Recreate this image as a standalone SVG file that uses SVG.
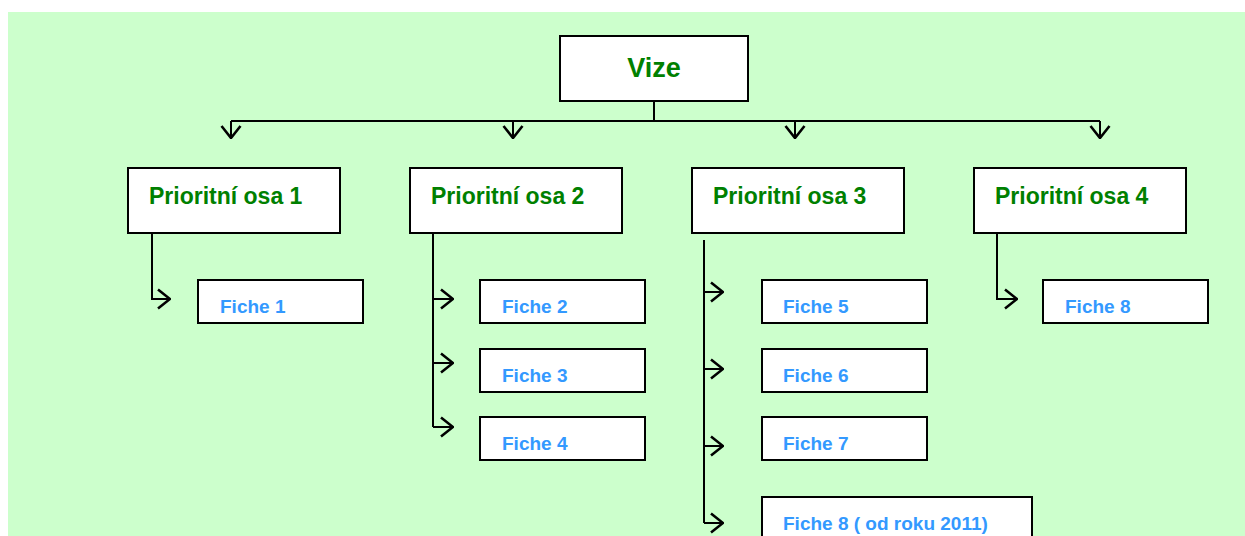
<svg xmlns="http://www.w3.org/2000/svg" width="1245" height="536" viewBox="0 0 1245 536">
<style>
.box{fill:#fff;stroke:#000;stroke-width:2}
.vz{font-family:"Liberation Sans",Arial,sans-serif;font-weight:bold;font-size:27px;fill:#008000}
.os{font-family:"Liberation Sans",Arial,sans-serif;font-weight:bold;font-size:23px;fill:#008000}
.fi{font-family:"Liberation Sans",Arial,sans-serif;font-weight:bold;font-size:19px;fill:#3399ff}
.ln{fill:none;stroke:#000;stroke-width:2}
</style>
<defs>
<marker id="ah" viewBox="0 0 14 22" refX="13" refY="11" markerWidth="14" markerHeight="22" markerUnits="userSpaceOnUse" orient="auto">
<path d="M1,1.5 L13,11 L1,20.5" fill="none" stroke="#000" stroke-width="2.6"/>
</marker>
</defs>
<rect x="8" y="12" width="1237" height="524" fill="#ccffcc"/>
<g id="connectors">
<path class="ln" d="M654,101 V121 M231,121 H1100"/>
<path class="ln" d="M231,121 V138" marker-end="url(#ah)"/>
<path class="ln" d="M513,121 V138" marker-end="url(#ah)"/>
<path class="ln" d="M795,121 V138" marker-end="url(#ah)"/>
<path class="ln" d="M1100,121 V138" marker-end="url(#ah)"/>
<path class="ln" d="M152,233 V299 H170" marker-end="url(#ah)"/>
<path class="ln" d="M433,233 V427"/>
<path class="ln" d="M433,299 H453" marker-end="url(#ah)"/>
<path class="ln" d="M433,363 H453" marker-end="url(#ah)"/>
<path class="ln" d="M433,427 H453" marker-end="url(#ah)"/>
<path class="ln" d="M704,240 V523"/>
<path class="ln" d="M704,292 H723" marker-end="url(#ah)"/>
<path class="ln" d="M704,369 H723" marker-end="url(#ah)"/>
<path class="ln" d="M704,446 H723" marker-end="url(#ah)"/>
<path class="ln" d="M704,523 H723" marker-end="url(#ah)"/>
<path class="ln" d="M997,233 V299 H1017" marker-end="url(#ah)"/>
</g>
<g id="vize"><rect class="box" x="560" y="36" width="188" height="65"/><text class="vz" x="654" y="77" text-anchor="middle">Vize</text></g>
<g id="osa1"><rect class="box" x="128" y="168" width="212" height="65"/><text class="os" x="149" y="204">Prioritní osa 1</text></g>
<g id="osa2"><rect class="box" x="410" y="168" width="212" height="65"/><text class="os" x="431" y="204">Prioritní osa 2</text></g>
<g id="osa3"><rect class="box" x="692" y="168" width="212" height="65"/><text class="os" x="713" y="204">Prioritní osa 3</text></g>
<g id="osa4"><rect class="box" x="974" y="168" width="212" height="65"/><text class="os" x="995" y="204">Prioritní osa 4</text></g>
<g id="fiche1"><rect class="box" x="198" y="280" width="165" height="43"/><text class="fi" x="220" y="313">Fiche 1</text></g>
<g id="fiche2"><rect class="box" x="480" y="280" width="165" height="43"/><text class="fi" x="502" y="313">Fiche 2</text></g>
<g id="fiche3"><rect class="box" x="480" y="349" width="165" height="43"/><text class="fi" x="502" y="382">Fiche 3</text></g>
<g id="fiche4"><rect class="box" x="480" y="417" width="165" height="43"/><text class="fi" x="502" y="450">Fiche 4</text></g>
<g id="fiche5"><rect class="box" x="762" y="280" width="165" height="43"/><text class="fi" x="783" y="313">Fiche 5</text></g>
<g id="fiche6"><rect class="box" x="762" y="349" width="165" height="43"/><text class="fi" x="783" y="382">Fiche 6</text></g>
<g id="fiche7"><rect class="box" x="762" y="417" width="165" height="43"/><text class="fi" x="783" y="450">Fiche 7</text></g>
<g id="fiche8b"><rect class="box" x="762" y="497" width="270" height="60"/><text class="fi" x="783" y="530">Fiche 8 ( od roku 2011)</text></g>
<g id="fiche8"><rect class="box" x="1043" y="280" width="165" height="43"/><text class="fi" x="1065" y="313">Fiche 8</text></g>
</svg>
